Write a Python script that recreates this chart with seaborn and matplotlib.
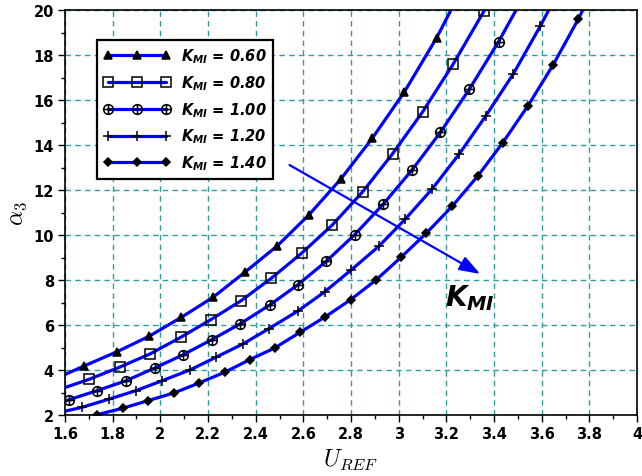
import numpy as np
import pandas as pd
import seaborn as sns
import matplotlib
matplotlib.use("Agg")
import matplotlib.pyplot as plt
from matplotlib.path import Path
from matplotlib.lines import Line2D
from matplotlib.ticker import MultipleLocator, FuncFormatter

# ---- data: alpha_3 versus U_REF for several K_MI values ----
k_labels = ["0.60", "0.80", "1.00", "1.20", "1.40"]

u_k060 = [1.600, 1.680, 1.818, 1.953, 2.088, 2.221, 2.354, 2.490, 2.623, 2.756,
          2.890, 3.024, 3.159, 3.293]
a_k060 = [3.80, 4.18, 4.81, 5.50, 6.34, 7.23, 8.34, 9.51, 10.89, 12.47,
          14.31, 16.36, 18.76, 21.50]

u_k080 = [1.600, 1.702, 1.830, 1.956, 2.085, 2.212, 2.339, 2.466, 2.594, 2.721,
          2.849, 2.975, 3.101, 3.229, 3.359, 3.487]
a_k080 = [3.22, 3.59, 4.13, 4.71, 5.45, 6.24, 7.08, 8.08, 9.20, 10.44,
          11.92, 13.62, 15.48, 17.60, 19.97, 22.60]

u_k100 = [1.600, 1.617, 1.734, 1.855, 1.977, 2.094, 2.216, 2.333, 2.459, 2.576,
          2.697, 2.816, 2.936, 3.056, 3.175, 3.296, 3.419, 3.540]
a_k100 = [2.62, 2.68, 3.08, 3.52, 4.09, 4.67, 5.35, 6.04, 6.89, 7.78,
          8.84, 10.02, 11.38, 12.89, 14.56, 16.47, 18.59, 20.90]

u_k120 = [1.600, 1.671, 1.786, 1.897, 2.009, 2.124, 2.232, 2.347, 2.456, 2.577,
          2.689, 2.800, 2.917, 3.028, 3.140, 3.254, 3.366, 3.481, 3.595, 3.710]
a_k120 = [2.17, 2.34, 2.71, 3.08, 3.53, 4.00, 4.56, 5.16, 5.84, 6.62,
          7.47, 8.44, 9.50, 10.71, 12.04, 13.60, 15.30, 17.16, 19.30, 21.60]

u_k140 = [1.620, 1.733, 1.842, 1.949, 2.057, 2.162, 2.270, 2.375, 2.480, 2.587,
          2.693, 2.798, 2.906, 3.010, 3.115, 3.224, 3.331, 3.436, 3.543, 3.648,
          3.754, 3.860]
a_k140 = [1.77, 2.01, 2.30, 2.64, 2.98, 3.42, 3.90, 4.46, 4.98, 5.68,
          6.37, 7.12, 8.01, 9.01, 10.07, 11.27, 12.61, 14.09, 15.75, 17.56,
          19.60, 21.90]

x_ticks = [1.6, 1.8, 2.0, 2.2, 2.4, 2.6, 2.8, 3.0, 3.2, 3.4, 3.6, 3.8, 4.0]
y_ticks = [2, 4, 6, 8, 10, 12, 14, 16, 18, 20]

# arrow indicating increasing K_MI
arrow_start = (2.542, 13.11)
arrow_end = (3.342, 8.27)
arrow_text = (3.30, 7.24)

series_u = [u_k060, u_k080, u_k100, u_k120, u_k140]
series_a = [a_k060, a_k080, a_k100, a_k120, a_k140]

frames = []
for k, u, a in zip(k_labels, series_u, series_a):
    frames.append(pd.DataFrame({"U_REF": u, "alpha3": a, "K_MI": k}))
df = pd.concat(frames, ignore_index=True)

# ---- style ----
sns.set_style("white")
plt.rcParams["font.family"] = ["DejaVu Sans"]
plt.rcParams["text.color"] = "black"
plt.rcParams["axes.labelcolor"] = "black"
plt.rcParams["xtick.color"] = "black"
plt.rcParams["ytick.color"] = "black"
plt.rcParams["mathtext.fontset"] = "custom"
plt.rcParams["mathtext.it"] = "DejaVu Sans:italic:bold"
plt.rcParams["mathtext.rm"] = "DejaVu Sans:bold"
plt.rcParams["mathtext.bf"] = "DejaVu Sans:italic:bold"

# circle with a cross inside
circ = Path.unit_circle()
cross = Path([[-1, 0], [1, 0], [0, -1], [0, 1]],
             [Path.MOVETO, Path.LINETO, Path.MOVETO, Path.LINETO])
circle_plus = Path.make_compound_path(circ, cross)

marker_specs = {
    "0.60": dict(marker="^", markersize=6, markerfacecolor="black"),
    "0.80": dict(marker="s", markersize=7, markerfacecolor="none"),
    "1.00": dict(marker=circle_plus, markersize=7, markerfacecolor="none"),
    "1.20": dict(marker="+", markersize=7, markerfacecolor="none"),
    "1.40": dict(marker="D", markersize=4, markerfacecolor="black"),
}

line_color = "#0000ff"
fig = plt.figure(figsize=(6.42, 4.77), dpi=100)
ax = fig.add_axes([65 / 642, 61 / 477, 572 / 642, 405 / 477])

handles = []
for k in k_labels:
    sub = df[df["K_MI"] == k]
    spec = marker_specs[k]
    sns.lineplot(data=sub, x="U_REF", y="alpha3", ax=ax, color=line_color,
                 linewidth=2.3, sort=False, estimator=None,
                 markevery=slice(1, len(sub) - 1),
                 markeredgecolor="black", markeredgewidth=1.1, **spec)
    handles.append(Line2D([], [], color=line_color, linewidth=2.3,
                          markeredgecolor="black", markeredgewidth=1.1, **spec))

ax.set_xlim(1.6, 4.0)
ax.set_ylim(2, 20)
ax.set_xticks(x_ticks)
ax.set_yticks(y_ticks)
ax.xaxis.set_minor_locator(MultipleLocator(0.1))
ax.yaxis.set_minor_locator(MultipleLocator(1))
ax.xaxis.set_major_formatter(FuncFormatter(lambda v, p: f"{v:g}"))
ax.yaxis.set_major_formatter(FuncFormatter(lambda v, p: f"{v:g}"))
ax.tick_params(which="both", direction="out", bottom=True, left=True,
               top=False, right=False, color="black", labelcolor="black",
               width=1.0)
ax.tick_params(which="major", length=5, labelsize=10.5, pad=3)
ax.tick_params(which="minor", length=3)
for lab in ax.get_xticklabels() + ax.get_yticklabels():
    lab.set_fontweight("bold")
for sp in ax.spines.values():
    sp.set_color("black")
    sp.set_linewidth(1.2)

ax.grid(True, which="major", linestyle=(0, (4, 3)), color="#2f9e9e", linewidth=1.0)
ax.set_axisbelow(True)

ax.set_xlabel(r"$U_{REF}$", fontsize=17, math_fontfamily="cm", labelpad=4,
              color="black")
ax.set_ylabel(r"$\alpha_3$", fontsize=17, math_fontfamily="cm", labelpad=3,
              color="black")

leg = ax.legend(handles=handles,
                labels=[rf"$K_{{MI}}$ = {k}" for k in k_labels],
                loc="upper left", bbox_to_anchor=(0.056, 0.926),
                borderaxespad=0, frameon=True, fancybox=False,
                edgecolor="black", framealpha=1, numpoints=3,
                handlelength=4.6, handletextpad=0.7, labelspacing=0.55,
                borderpad=0.45,
                prop=dict(weight="bold", style="italic", size=10.5))
leg.get_frame().set_linewidth(1.6)
for t in leg.get_texts():
    t.set_color("black")

ax.annotate("", xy=arrow_end, xytext=arrow_start,
            arrowprops=dict(arrowstyle="-|>,head_length=0.9,head_width=0.32",
                            color=line_color, lw=1.6, mutation_scale=14,
                            shrinkA=0, shrinkB=0))
ax.text(arrow_text[0], arrow_text[1], r"$K_{MI}$", fontsize=20,
        ha="center", va="center", color="black")

fig.savefig("out.png", dpi=100)
